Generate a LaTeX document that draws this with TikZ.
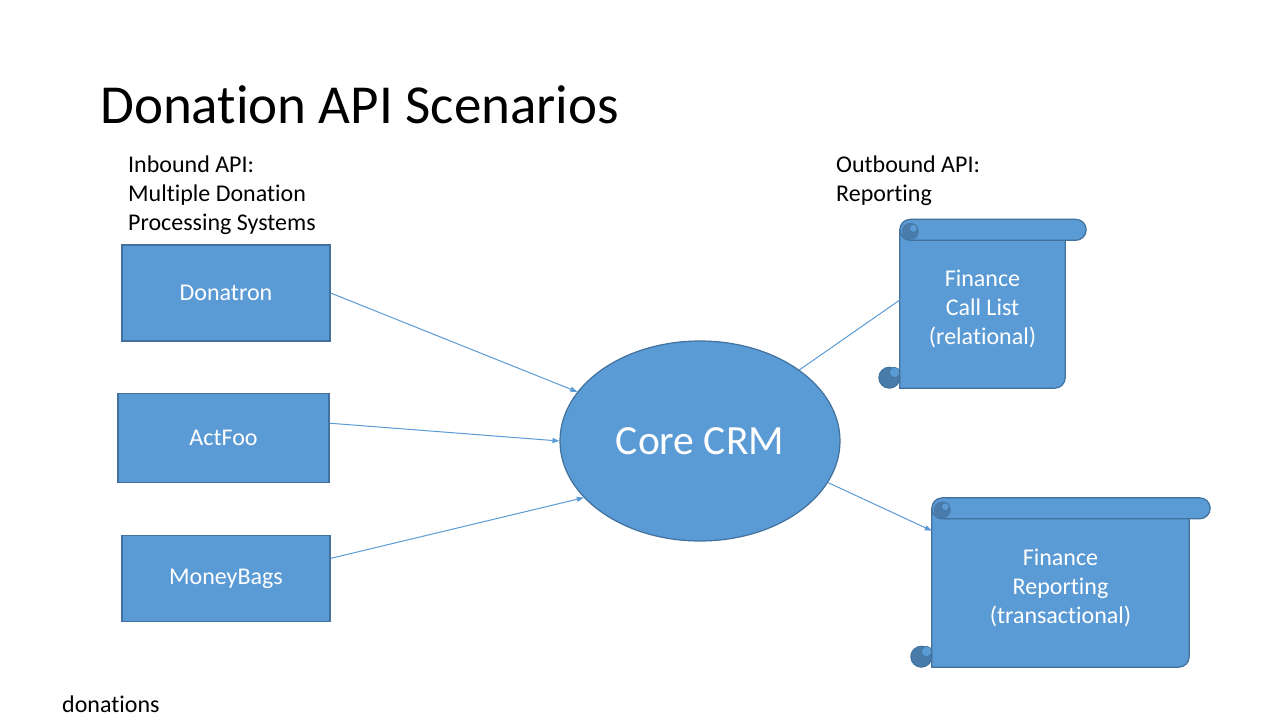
\documentclass[tikz,border=0pt]{standalone}
\usepackage{fontspec}
\setmainfont{Carlito}[Ligatures=NoCommon]
\usetikzlibrary{shapes.geometric,positioning,calc,backgrounds,arrows.meta}

\definecolor{boxblue}{HTML}{5B9BD5}
\definecolor{boxedge}{HTML}{41719C}
\definecolor{curlblue}{HTML}{497CAA}

% scroll drawn behind a named text node
\newcommand{\scrollback}[1]{%
  \begin{scope}[on background layer]
    \draw[scrollpart] (#1.north west) -- (#1.south west)
      -- ($(#1.south east)+(-10.5,0)$) arc[start angle=90,end angle=0,radius=10.5]
      -- (#1.north east) -- cycle;
    \draw[scrollpart, rounded corners=10.5pt] ($(#1.north west)+(0,-10.5)$) rectangle ($(#1.north east)+(21,10.5)$);
    \fill[curlblue] ($(#1.north west)+(10.5,1.5)$) circle (8.5);
    \draw[boxedge, fill=boxblue, line width=0.6pt] ($(#1.north west)+(13.5,-1.5)$) circle (4);
    \draw[curl] ($(#1.south west)+(-10.5,-10.5)$) circle (10.5);
    \draw[boxedge, fill=boxblue, line width=0.6pt] ($(#1.south west)+(-5.25,-15.75)$) circle (5.25);
    \draw[boxedge, line width=1.2pt] (#1.north west) -- ($(#1.south west)+(0,-10.5)$);
  \end{scope}}

\begin{document}
\begin{tikzpicture}[x=1pt, y=-1pt,
        block/.style={draw=boxedge, fill=boxblue, line width=1.2pt, text=white, inner sep=0pt, align=center, font=\fontsize{24}{29}\selectfont},
        scrolltext/.style={inner sep=0pt, text=white, align=center, font=\fontsize{24}{29}\selectfont},
        scrollpart/.style={draw=boxedge, fill=boxblue, line width=1.2pt},
        curl/.style={draw=boxedge, fill=curlblue, line width=1pt},
        label/.style={inner sep=0pt, align=left, font=\fontsize{24}{29}\selectfont},
        link/.style={draw=boxblue, line width=1pt},
        >={Triangle[length=7pt,width=5pt]}
    ]
        \begin{scope}[on background layer]
            \fill[white] (0,0) rectangle (1280,720);
        \end{scope}
        \useasboundingbox (0,0) rectangle (1280,720);

        % Titles
        \node [anchor=base west, inner sep=0pt, font=\fontsize{55}{66}\selectfont] (title) at (100,123) {Donation API Scenarios};
        \node [label, anchor=base west] (inlabel) at (128,230) {Inbound API:\\Multiple Donation\\Processing Systems};
        \node [label, anchor=base west] (outlabel) at (836,201) {Outbound API:\\Reporting};
        \node [label, anchor=base west] (foot) at (62,712) {donations};

        % Inbound systems
        \node [block, minimum width=208pt, minimum height=96pt] (donatron) at (226,293) {Donatron};
        \node [block, minimum width=211pt, minimum height=89pt, below=51pt of donatron, xshift=-2.5pt] (actfoo) {ActFoo};
        \node [block, minimum width=208pt, minimum height=86pt, below=52pt of actfoo, xshift=2.5pt] (moneybags) {MoneyBags};

        % Core
        \node [block, ellipse, minimum width=280pt, minimum height=200pt, font=\fontsize{41.5}{50}\selectfont] (crm) at (700,441) {Core CRM};

        % Reports
        \node [scrolltext, minimum width=165pt, minimum height=158pt] (calllist) at (982.5,309) {Finance\\Call List\\(relational)};
        \node [scrolltext, minimum width=257pt, minimum height=158.5pt] (finrep) at (1060.5,587.75) {Finance\\Reporting\\(transactional)};
        \scrollback{calllist}
        \scrollback{finrep}

        \draw[link, ->] (donatron.east) -- (crm);
        \draw[link, ->] ([yshift=14.5pt]actfoo.east) -- (crm.west);
        \draw[link, ->] ([yshift=20pt]moneybags.east) -- (crm.206);

        \draw[link] (crm.north east) -- ([yshift=9pt]calllist.west);
        \draw[link, ->] (crm.342) -- ([yshift=57pt]finrep.west);

    \end{tikzpicture}
\end{document}
